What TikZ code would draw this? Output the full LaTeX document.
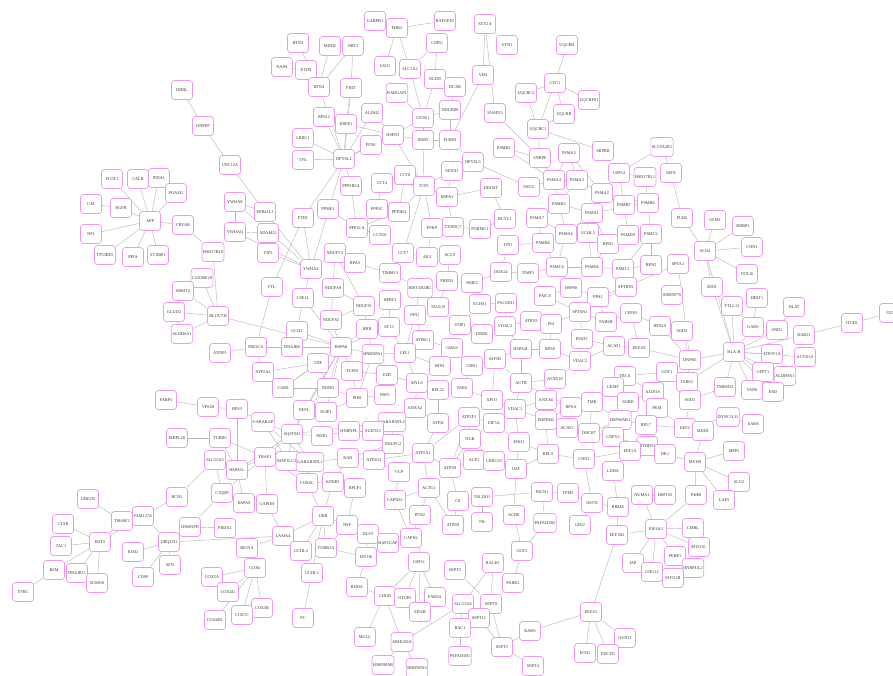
\documentclass[tikz,border=0pt]{standalone}
\usepackage{fontspec}
\setmainfont{Liberation Serif}
\usepackage{tikz}
\usetikzlibrary{backgrounds}
\definecolor{genepink}{RGB}{238,150,240}
\definecolor{genetext}{RGB}{55,55,55}
\definecolor{linkgrey}{RGB}{185,185,185}

\begin{document}
\begin{tikzpicture}[
        x=1pt, y=-1pt,
        gene/.style={rectangle, rounded corners=3pt, draw=genepink, line width=0.7pt, fill=white,
                     minimum width=21pt, minimum height=19pt, inner sep=1pt,
                     font=\fontsize{4.3}{5}\selectfont, text=genetext},
        link/.style={draw=linkgrey, line width=0.45pt},
    ]
    \useasboundingbox (0,0) rectangle (893,675);

    % left top
    \foreach \g/\x/\y in {DBNL/182/90, DNPEP/203/126, UNC13A/230/165, FLOT1/112/179, CALB/138/179,
        PDIA1/159/178, PGAM1/176/193, CAT/91/204, NGFR/121/208, APP/150/221, CRYAB/183/225,
        NF1/91/234, TP53BP2/105/255, PPIA/133/257, STXBP1/158/255, HSD17B10/213/252,
        C22ORF28/202/278, SHMT2/183/291, GLUD2/174/312, BLOVTD/218/316, ALDH6A1/182/334,
        ATPIF1/220/353, FABP1/166/400, VPS28/208/407, MRPL28/177/438, TUBB5/220/438}
        \node[gene] (\g) at (\x,\y) {\g};

    % top centre
    \foreach \g/\x/\y in {GABPB1/375/21, PHB2/397/28, RAPGEF2/445/21, STX1A/485/24, SYN1/507/45,
        UQCRH/567/45, RTN3/298/43, MDH2/330/46, NRT2/353/46, COPG/437/43, NAPA/282/67,
        ETFB/306/70, USO1/385/66, SLC1A2/410/69, VIM/483/75, NCDN/435/79, DCXR/455/87,
        CYC1/555/83, UQCRC2/526/93, UQCRFS1/589/100, RTN4/319/87, FHIT/351/88, RABGAP1/397/93,
        NDUFB9/450/110, SNAP25/495/113, UQCRB/564/114, RPS12/324/117, ALDH2/372/113,
        HSPE1/346/124, GSTK1/423/118, UQCRC1/538/129, LRRC1/303/138, HSPD1/393/135,
        INMT/423/140, FURIN/450/140, PFN1/371/145, PSMB1/504/148, PSMA5/569/153,
        SRPRB/603/151, SLC9A3R1/662/147, SNRPF/540/158, TFG/303/160, DPYSL2/344/159,
        DPYSL5/473/162, SFXN1/452/171, MSN/671/173, USP14/619/173, HSD17B12/645/177,
        CCT8/405/175, CCT4/382/183, PPP2R5A/351/186, TCP1/424/186, PSMA4/554/180,
        PSMA3/577/180, SNCG/529/187, DDOST/491/188, PSMA2/602/193, HSPA5/447/197}
        \node[gene] (\g) at (\x,\y) {\g};

    % upper middle
    \foreach \g/\x/\y in {YWHAE/235/202, EPB41L3/265/212, PSMB3/559/204, PSMB7/624/205,
        PSMB6/648/203, PPME1/328/209, PPP2C/377/209, PPP2R4/399/212, PSMA1/592/213,
        FTH1/303/218, PLEK/682/218, GFM1/715/220, RRBP1/743/226, BCYL1/505/219, PSMA7/537/218,
        TXNDC7/453/227, PGRMC1/480/229, PPP2CA/357/228, PFKP/432/228, YWHAQ/235/232,
        ADAM22/268/233, CCT6A/380/235, PSMB4/543/243, TPI1/508/245, PSMA6/566/234,
        UCHL5/588/233, RPN1/608/244, PSMD9/628/235, PSMC2/651/234, SLN4/705/251, CNN3/752/247,
        TJP2/268/253, NDUFV2/335/253, CCT7/403/253, AK2/427/257, ACLY/450/255, RPA3/355/263,
        SPTA1/678/264, PSMC4/557/267, PSMD6/592/267, PSMC1/623/269, RPN2/651/265,
        YWHAZ/311/269, TIMM13/390/273, DDX24/501/272, TIMP1/528/273, TEX16/747/274,
        PRED1/447/281, NME2/472/283, FTL/272/287, NDUFA9/333/288, HIST1H2BC/420/288,
        HSP90/571/288, RDX/712/287, PAICS/545/296, PPA1/598/297, SPTBN1/626/287,
        SNRNP70/672/295, HINT1/757/298, CSE1L/303/298, HPRT1/390/300, TAGLN/438/307,
        ECHS1/480/304, PACSIN1/506/303, TTLL12/732/306, DLAT/794/307, NDUFS1/364/306,
        SPTAN1/580/312, CEP63/631/313, PIN1/415/315, NDUFS2/331/320, ATP5D/531/321,
        FARSB/606/322, PI4/551/324, ITGB1/852/323, ITG/890/313}
        \node[gene] (\g) at (\x,\y) {\g};

    % middle
    \foreach \g/\x/\y in {STIP1/460/325, VDAC3/505/326, RPS3A/660/326, GARS/753/327, SND1/777/330,
        SOD2/682/331, RAB21/804/335, GCH1/297/331, HBB/367/329, ST13/389/327, DNM1/482/334,
        PSAT1/582/339, ATP6C1/423/340, ACAT1/614/346, EEF1D/639/348, GBAS/452/348,
        HSPA4L/521/349, RPS6/550/349, PIK3CA/256/347, DNAJB6/292/347, HSPA8/341/347,
        ATP6V1A/772/354, ACTR1A/805/357, HNRNPA1/373/354, CFL1/405/353, DNPH1/690/360,
        KIF5B/495/359, VDAC2/580/361, TNF/318/363, CBR1/472/366, BIN1/440/366, TUFM/352/371,
        ATP2A2/263/372, GOT1/667/372, GFPT1/763/372, ALDH9A1/785/376, EZR/387/375,
        TBCA/625/376, ATXN10/555/379, ACTB/521/383, MYL6/417/383, IARS2/687/382,
        TMEM33/725/387, CKMT/613/387, YARS/462/388, CAR8/283/388, NONO/328/388,
        RPL22/438/390, VAPA/752/390, ESD/773/392, ALDOA/653/392, FBP1/385/395, PHB/357/398,
        SOD1/690/400, XPO1/492/400, ANXA6/546/400, TMK/592/402, SORD/628/402, RPSA/571/407,
        PKM/657/408, ANXA2/415/408, RPS3/237/409, NEFL/304/410, SGIP1/326/412, VDAC1/515/409,
        DYNC1LI1/728/417, ATP5F1/469/417, IMPDH2/546/420, HSP90AB1/620/420, GABARAP/263/422,
        GABARAPL2/392/422, ATP5I/438/423, EIF5A/494/423, AARS/753/424, RPL7/646/425,
        ACAT2/567/428, EEF2/685/428, MDH1/703/431, HNRNPL/349/431, SUDT23/373/431,
        DHCR7/589/433, SQSTM1/292/434, NDR1/322/436, CNPY2/613/437, NGB/470/439,
        ENO1/519/442, NDUFC2/393/444, MTHFD1/647/446}
        \node[gene] (\g) at (\x,\y) {\g};
    \node[gene] (hlab) at (734,352) {HLA-B};

    % lower middle
    \foreach \g/\x/\y in {EEF1A/630/451, MPP3/734/451, ATP5A1/423/453, RPL9/548/454, DK1/665/454,
        TRAF1/265/457, RAN/348/458, CNN2/584/459, SLC25A3/215/460, ACP1/474/460,
        LRRC59/494/461, MAP1LC3B/288/461, GABARAPL1/310/462, ATP5G2/374/460, MYH9/695/462,
        HSPA1L/237/470, ATP5B/450/468, OAT/516/469, LDHA/613/471, VCP/399/472, SCG2/739/482,
        KPNB1/333/482, COX6C/307/483, RPLP1/355/488, ACTG1/429/488, FSCN1/542/492,
        TPM3/568/493, C1QBP/222/493, HSP105/665/495, NUMA1/642/495, P4HB/696/495,
        RCN2/177/497, TALDO1/482/497, UBE2N/88/499, CAPNS1/395/500, LAP3/724/500, CS/458/501,
        DSTN/592/503, HSPA9/244/503, GAPDH/267/504, RBMX/618/507, ACHE/514/515, PFN2/420/515,
        UBB/323/516, FAM127A/143/516, TM4SF2/122/521, FH/482/522, PAFAH1B2/545/523,
        CTSB/63/524, NSF/347/525, ATP5H/453/525, GDI2/580/525, HNRNPD/190/527,
        PRDX1/225/528, EIF4A2/656/529, CMBL/693/528, DLST/368/534, LAMA4/283/536,
        EEF1B2/617/535, CAPN2/411/538}
        \node[gene] (\g) at (\x,\y) {\g};

    % bottom
    \foreach \g/\x/\y in {BAT3/100/542, UBQLN1/169/542, RAP1GAP/388/543, TAC1/61/546, MYO5C/699/547,
        RICNA/247/548, TUBB2A/326/548, UCHL3/301/551, GOT2/522/551, EZH2/133/552,
        PEBP1/675/556, MYO6/366/557, USP11/419/562, RACK1/493/563, IAP/633/563, SFN/170/565,
        COX6/255/568, HNRPUL2/693/568, B2M/54/570, SEPT5/455/570, GNG12/652/572,
        DNAJB11/77/573, UCHL1/312/573, COX5A/212/577, CD99/143/577, MYO1B/673/578,
        SGMOS/97/583, PARK2/513/583, RHOA/357/587, TFRC/23/592, COX4I1/228/592,
        CHGB/385/596, FARSA/435/597, OTUB1/405/598, SLC25A6/463/604, SEPT9/491/604,
        COX5B/262/608, EEF1G/591/612, EIF4B/420/612, COX7C/242/615, PC/303/618,
        SEPT11/479/618, COX6B1/215/620, RAC1/460/628, KARS/530/631, MGLL/365/637,
        GSTO1/625/638, ARHGDIA/402/642, SEPT2/502/647, ECH1/585/653, PDCD5/608/654,
        PAFAH1B1/460/656, HNRNPAB/383/665, SEPT4/533/666, HNRNPA3/417/668}
        \node[gene] (\g) at (\x,\y) {\g};

    % connectors
    \begin{scope}[on background layer]
    \foreach \a/\b in {DBNL/DNPEP, DNPEP/UNC13A, UNC13A/EPB41L3, CAT/NGFR, CRYAB/HSD17B10,
        HSD17B10/BLOVTD, HSD17B10/YWHAQ, C22ORF28/BLOVTD, SHMT2/BLOVTD, SHMT2/C22ORF28,
        GLUD2/BLOVTD, ALDH6A1/BLOVTD, SHMT2/GLUD2, GLUD2/ALDH6A1, BLOVTD/HSPA8,
        ATPIF1/PIK3CA, FABP1/VPS28, VPS28/RPS3, MRPL28/TUBB5, TUBB5/TRAF1, TUBB5/HSPA1L,
        SLC25A3/HSPA1L, SLC25A3/C1QBP, RCN2/SLC25A3, RCN2/FAM127A, UBE2N/TM4SF2,
        TM4SF2/BAT3, B2M/TFRC, B2M/DNAJB11, UBQLN1/LAMA4, HNRNPD/C1QBP, HNRNPD/PRDX1,
        C1QBP/HSPA9, C1QBP/TRAF1, RICNA/PRDX1, RICNA/LAMA4, GAPDH/HSPA9, GAPDH/LAMA4,
        GAPDH/TRAF1, HSPA9/HSPA1L, UCHL1/PC, UCHL3/LAMA4, DLST/MYO6, RAP1GAP/CAPN2,
        CAPN2/PFN2, PFN2/ACTG1, PFN2/USP11, CAPNS1/VCP, CAPNS1/CAPN2, CAPNS1/ACTG1,
        ACTG1/ATP5A1, CHGB/RHOA, RHOA/MYO6, TUBB2A/MYO6, ARHGDIA/SLC25A6, SEPT5/SEPT9,
        RACK1/SEPT9, RACK1/SLC25A6, RACK1/PARK2, PARK2/GOT2, PARK2/SEPT9, SEPT9/SEPT11,
        SEPT9/SEPT2, SEPT11/SEPT2, SEPT11/RAC1, SEPT2/SEPT4, SEPT2/KARS, KARS/EEF1G,
        RAC1/PAFAH1B1, RAC1/SLC25A6, SLC25A6/SEPT11, GOT2/ACHE, GOT2/PAFAH1B2, ACHE/OAT,
        OAT/LRRC59, LRRC59/ACP1, ACP1/ATP5B, ATP5B/CS, CS/TALDO1, CS/ATP5H, TALDO1/FH,
        TALDO1/FSCN1, FSCN1/TPM3, FSCN1/PAFAH1B2, TPM3/DSTN, DSTN/GDI2, DSTN/CNN2,
        CNN2/RPL9, RPL9/OAT, RBMX/EEF1B2, RBMX/LDHA, RBMX/DSTN, LDHA/EEF1A, EEF1A/MTHFD1,
        EEF1A/DK1, NUMA1/HSP105, P4HB/MYH9, PEBP1/MYO1B, PEBP1/HNRPUL2, HNRPUL2/MYO5C,
        RAB21/ITGB1, ITGB1/ITG, SND1/DLAT, GARS/HINT1, GARS/TTLL12, PLEK/MSN,
        MSN/SLC9A3R1, SLC9A3R1/USP14, DNPH1/SPTA1, DNPH1/SOD2, DNPH1/RPS3A, DNPH1/EEF1D,
        GOT1/IARS2, IARS2/SOD1, IARS2/DNPH1, SOD1/TMEM33, SOD1/EEF2, EEF2/MDH1,
        EEF2/DYNC1LI1, DYNC1LI1/AARS, EEF2/PKM, EEF2/RPL7, MDH1/MYH9, GOT1/TBCA, GOT1/PKM}
        \draw[link] (\a) -- (\b);

    \foreach \a/\b in {PSMA4/PSMA3, PSMA3/PSMA2, PSMA2/PSMA1, PSMA1/PSMB3, PSMB3/PSMA4,
        PSMA5/PSMA4, PSMA5/PSMA3, PSMA5/PSMA2, PSMA7/PSMB3, PSMA7/PSMA6, PSMA6/UCHL5,
        UCHL5/PSMA1, PSMA6/PSMB3, PSMA6/PSMA1, PSMB7/PSMA2, PSMB7/PSMB6, PSMB6/PSMA1,
        PSMB7/PSMD9, PSMD9/PSMC2, PSMC2/PSMB6, RPN1/PSMD9, RPN1/UCHL5, RPN1/PSMD6,
        PSMD6/PSMC4, PSMC4/PSMB4, PSMC4/PSMA6, PSMC1/PSMD6, PSMC1/RPN2, RPN2/PSMC2,
        PSMC1/PSMC2, USP14/PSMA2, USP14/PSMB7, PSMB1/SNRPF, PSMB1/PSMA4, SNRPF/PSMA4,
        SNCG/PSMA4, PSMB4/PSMA7, PSMD6/UCHL5, PSMA3/PSMB3, PSMC4/HSP90, HSP90/PSMD6,
        UQCRC1/SRPRB, UQCRC1/SNRPF, HSD17B12/USP14, HSD17B12/PSMB6, SPTBN1/PSMC1,
        SPTBN1/SPTAN1, SPTA1/SPTBN1, SPTBN1/PPA1, PPA1/HSP90, PSMA1/RPN1, PSMA2/PSMB6,
        UQCRC1/UQCRC2, UQCRC1/UQCRB, UQCRC1/CYC1, CYC1/UQCRH, CYC1/UQCRFS1, CYC1/UQCRB,
        UQCRC2/CYC1, STX1A/SNAP25, STX1A/SYN1, STX1A/VIM, VIM/FURIN, RAPGEF2/PHB2,
        GABPB1/PHB2, PHB2/USO1, PHB2/SLC1A2, COPG/NCDN, COPG/SLC1A2, NCDN/GSTK1,
        SLC1A2/GSTK1, RABGAP1/GSTK1, GSTK1/INMT, GSTK1/NDUFB9, GSTK1/HSPD1, DCXR/NDUFB9,
        NDUFB9/FURIN, INMT/FURIN, FURIN/DPYSL5, SFXN1/DPYSL5, SFXN1/TCP1, HSPA5/TCP1,
        HSPA5/SFXN1, HSPA5/DDOST, DDOST/BCYL1, SNCG/DPYSL5, SNAP25/SNRPF}
        \draw[link] (\a) -- (\b);

    \foreach \a/\b in {RTN3/RTN4, NAPA/ETFB, MDH2/RTN4, NRT2/RTN4, NRT2/FHIT, ETFB/RTN4,
        RTN4/DPYSL2, FHIT/HSPE1, FHIT/DPYSL2, RPS12/DPYSL2, HSPE1/DPYSL2, HSPE1/HSPD1,
        ALDH2/DPYSL2, ALDH2/HSPD1, PFN1/DPYSL2, PFN1/HSPD1, LRRC1/DPYSL2, TFG/DPYSL2,
        HSPD1/DPYSL2, DPYSL2/PPP2R5A, DPYSL2/FTH1, DPYSL2/YWHAZ, HSPD1/INMT, HSPD1/TCP1,
        INMT/TCP1, RPS12/HSPE1, TCP1/CCT8, TCP1/CCT4, CCT8/CCT4, TCP1/PPP2R4, TCP1/PFKP,
        TCP1/CCT7, CCT4/PPP2C, CCT8/PPP2R4, PPP2R4/PPP2C, PPP2R4/PPP2CA, PPP2C/PPP2CA,
        PPP2R5A/PPP2CA, PPP2CA/PPME1, PPP2CA/CCT6A, CCT6A/CCT7, CCT7/AK2, PFKP/AK2,
        AK2/ACLY, TXNDC7/PGRMC1, TXNDC7/HSPA5, PGRMC1/BCYL1, ACLY/PRED1,
        YWHAE/EPB41L3, YWHAE/YWHAQ, YWHAE/YWHAZ, YWHAQ/ADAM22, YWHAQ/YWHAZ,
        EPB41L3/YWHAZ, ADAM22/TJP2, TJP2/YWHAZ, YWHAZ/NDUFV2, YWHAZ/FTH1, YWHAZ/CSE1L,
        FTH1/FTL, FTL/PIK3CA, NDUFV2/NDUFA9, NDUFV2/NDUFS1, NDUFA9/NDUFS1, NDUFA9/NDUFS2,
        NDUFS1/NDUFS2, RPA3/NDUFV2, RPA3/TIMM13, TIMM13/HIST1H2BC, HPRT1/ST13,
        HIST1H2BC/PIN1, PIN1/TAGLN, TAGLN/PRED1, PRED1/NME2, NME2/DDX24, DDX24/TPI1,
        DDX24/TIMP1, TIMP1/PSMC4, ECHS1/PACSIN1, PACSIN1/VDAC3, NME2/ECHS1, STIP1/DNM1,
        STIP1/ECHS1, DNM1/VDAC3, VDAC3/ATP5D, ATP5D/PI4, PI4/SPTAN1, SPTAN1/PSAT1,
        PSAT1/ACAT1, ACAT1/EEF1D, FARSB/SPTAN1, FARSB/CEP63, CEP63/RPS3A, RPS3A/SOD2,
        PAICS/SPTAN1, PAICS/HSP90, PPA1/FARSB, TPI1/PSMB4}
        \draw[link] (\a) -- (\b);

    \foreach \a/\b in {TNF/ATP2A2, TNF/NONO, TNF/CAR8, HBB/HNRNPA1, HBB/ST13, HBB/NDUFS1,
        HNRNPA1/CFL1, HNRNPA1/TUFM, HNRNPA1/EZR, HNRNPA1/PHB, CFL1/ATP6C1, CFL1/MYL6,
        CFL1/BIN1, CFL1/EZR, CFL1/ST13, CFL1/PIN1, ATP6C1/GBAS, ATP6C1/PIN1, MYL6/ANXA2,
        MYL6/RPL22, MYL6/BIN1, MYL6/EZR, EZR/FBP1, EZR/TUFM, TUFM/PHB, PHB/FBP1,
        PHB/NONO, PHB/SGIP1, ANXA2/GABARAPL2, ANXA2/ATP5I, ANXA2/RPL22, GABARAPL2/SUDT23,
        GABARAPL2/NDUFC2, NDR1/SQSTM1, NDR1/HNRNPL, HNRNPL/SUDT23, NEFL/SQSTM1,
        SGIP1/NEFL, GABARAP/RPS3, GABARAP/MAP1LC3B, GABARAP/GABARAPL1,
        MAP1LC3B/GABARAPL1, GABARAPL1/RAN, RAN/KPNB1, RAN/ATP5G2, RAN/NDUFC2,
        KPNB1/COX6C, KPNB1/RPLP1, ATP5G2/VCP, ATP5G2/ATP5A1, VCP/ATP5A1, ATP5A1/ATP5I,
        ATP5A1/ATP5B, ATP5A1/ATP5F1, ATP5B/ATP5F1, ATP5F1/EIF5A, ATP5F1/NGB, EIF5A/VDAC1,
        EIF5A/NGB, EIF5A/ENO1, XPO1/VDAC1, XPO1/YARS, XPO1/KIF5B, YARS/CBR1, CBR1/KIF5B,
        KIF5B/HSPA4L, KIF5B/ACTB, GBAS/CBR1, BIN1/GBAS, RPL22/YARS, RPL22/ATP5I,
        VDAC1/ACTB, VDAC1/ANXA6, VDAC1/IMPDH2, VDAC1/ENO1, ACTB/ATXN10, ACTB/HSPA4L,
        ATXN10/VDAC2, ATXN10/ANXA6, VDAC2/PSAT1, VDAC2/RPS6, RPS6/HSPA4L, RPS6/PI4,
        ANXA6/RPSA, RPSA/TMK, RPSA/ACAT2, RPSA/IMPDH2, TMK/CKMT, TMK/HSP90AB1, TMK/DHCR7,
        CKMT/TBCA, TBCA/ALDOA, ALDOA/SORD, ALDOA/PKM, SORD/HSP90AB1, HSP90AB1/RPL7,
        HSP90AB1/CNPY2, HSP90AB1/DHCR7, RPL7/PKM, ACAT2/DHCR7, ACAT2/IMPDH2, CNPY2/DHCR7,
        CNPY2/MTHFD1, ENO1/OAT, ENO1/RPL9, IMPDH2/RPL9, EEF1A/CNN2, NGB/ATP5B, NGB/LRRC59,
        COX6C/GABARAPL1, COX6C/TRAF1, CSE1L/GCH1, GCH1/DNAJB6, DNAJB6/PIK3CA,
        PIK3CA/ATP2A2, ATP2A2/CAR8, CAR8/NONO, NONO/NEFL, TRAF1/HSPA1L, HSPA1L/RPS3,
        ACTG1/ATP5H, EEF1D/CEP63, HSPA4L/VDAC3, ACAT1/VDAC2, ACTB/RPSA}
        \draw[link] (\a) -- (\b);

    % hubs
    \draw[link] (APP) edge (FLOT1) edge (CALB) edge (PDIA1) edge (PGAM1) edge (NGFR)
        edge (CRYAB) edge (NF1) edge (TP53BP2) edge (PPIA) edge (STXBP1);
    \draw[link] (FAM127A) edge (TM4SF2) edge (UBQLN1) edge (BAT3);
    \draw[link] (BAT3) edge (CTSB) edge (TAC1) edge (B2M) edge (DNAJB11) edge (SGMOS);
    \draw[link] (UBQLN1) edge (EZH2) edge (CD99) edge (SFN);
    \draw[link] (COX6) edge (COX5A) edge (COX4I1) edge (COX7C) edge (COX5B) edge (RICNA) edge (COX6B1);
    \draw[link] (UBB) edge (UCHL3) edge (NSF) edge (TUBB2A) edge (UCHL1) edge (KPNB1)
        edge (LAMA4) edge (COX6C);
    \draw[link] (NSF) edge (DLST) edge (RPLP1) edge (TUBB2A) edge (RAP1GAP);
    \draw[link] (DLST) edge (RAP1GAP);
    \draw[link] (USP11) edge (OTUB1) edge (FARSA) edge (EIF4B) edge (CHGB);
    \draw[link] (CHGB) edge (MGLL) edge (ARHGDIA);
    \draw[link] (ARHGDIA) edge (HNRNPAB) edge (HNRNPA3);
    \draw[link] (EEF1G) edge (ECH1) edge (PDCD5) edge (GSTO1) edge (EEF1B2);
    \draw[link] (EIF4A2) edge (EEF1B2) edge (IAP) edge (GNG12) edge (CMBL) edge (MYO5C)
        edge (PEBP1) edge (P4HB) edge (NUMA1);
    \draw[link] (MYH9) edge (SCG2) edge (LAP3) edge (DK1) edge (MPP3);
    \draw[link] (hlab) edge (SND1) edge (RAB21) edge (GARS) edge (TTLL12) edge (RDX)
        edge (SLN4) edge (ATP6V1A) edge (ACTR1A) edge (GFPT1) edge (ALDH9A1) edge (VAPA)
        edge (ESD) edge (DNPH1) edge (TMEM33) edge (IARS2);
    \draw[link] (SLN4) edge (CNN3) edge (RRBP1) edge (GFM1) edge (TEX16) edge (RDX) edge (PLEK);
    \draw[link] (HSPA8) edge (TNF) edge (DNAJB6) edge (HBB) edge (TUFM) edge (GCH1)
        edge (NDUFS2) edge (CSE1L) edge (PIK3CA) edge (NONO) edge (HNRNPA1) edge (ST13)
        edge (NEFL) edge (SQSTM1) edge (CAR8) edge (SGIP1);
    \draw[link] (SQSTM1) edge (GABARAP) edge (MAP1LC3B) edge (GABARAPL1) edge (TRAF1)
        edge (HSPA1L) edge (GABARAPL2);
    \end{scope}
\end{tikzpicture}
\end{document}
